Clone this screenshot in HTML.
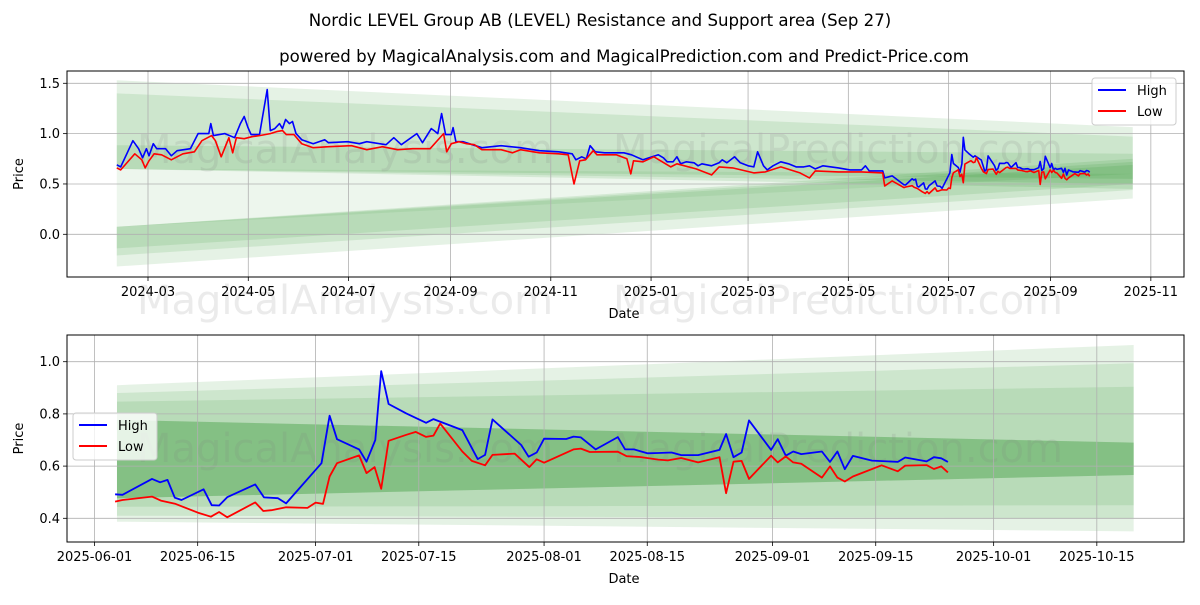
<!DOCTYPE html>
<html><head><meta charset="utf-8"><style>
body{margin:0;background:#fff;}
svg text{font-family:"DejaVu Sans","Liberation Sans",sans-serif;}
</style></head><body>
<svg id="c" width="1200" height="600" viewBox="0 0 1200 600" xmlns="http://www.w3.org/2000/svg">
<rect width="1200" height="600" fill="#fff"/>
<text x="600" y="26" text-anchor="middle" font-size="16.6">Nordic LEVEL Group AB (LEVEL) Resistance and Support area (Sep 27)</text>
<text x="624" y="62" text-anchor="middle" font-size="16.6">powered by MagicalAnalysis.com and MagicalPrediction.com and Predict-Price.com</text>
<g id="top"></g>
<g id="bot"></g>
</svg>
<script>
// ---- top chart data (day offsets from 2024-03-01) ----
const topHighDays=[-19,-16.6,-9.2,-5.7,-3.3,-1,0.6,3.2,5.3,10.7,14.2,17.7,25.8,30.5,37,38.2,39.8,46.8,52.7,56.2,58.5,60.8,62.7,67.8,72.5,74.4,77.1,80,81.8,83.7,86,87.9,90,93.5,100.5,107.5,109.8,121.5,128.5,133.1,144.8,149.5,154.1,163.5,167,172.3,174,176.3,178.6,181,184.5,185.6,187.3,191.5,203.1,214.8,226.5,238.1,249.8,258,260.3,263.8,266.6,268.9,272,277.8,289.5,294.1,301.1,310.4,313.5,315.8,319.4,321.7,324,327.5,332.2,334.6,336.9,342.8,347.4,349.3,352.1,356.8,360.3,365,368.5,370.8,374.4,376.7,380.2,384.9,389.6,394.2,398.9,402.4,405.9,410.6,420,427,434,436.4,438.7,446.9,448.1,452.7];
const topHighVals=[0.69,0.67,0.93,0.85,0.76,0.85,0.78,0.90,0.85,0.85,0.78,0.83,0.85,1.0,1.0,1.10,0.98,1.0,0.96,1.10,1.17,1.06,0.99,0.99,1.437,1.03,1.05,1.10,1.05,1.14,1.10,1.12,1.0,0.94,0.90,0.94,0.91,0.92,0.90,0.92,0.89,0.96,0.89,1.0,0.91,1.05,1.03,1.0,1.20,0.99,0.99,1.06,0.92,0.92,0.86,0.88,0.86,0.83,0.82,0.80,0.74,0.77,0.75,0.88,0.82,0.81,0.81,0.79,0.74,0.79,0.76,0.72,0.72,0.77,0.70,0.72,0.71,0.68,0.70,0.68,0.71,0.74,0.71,0.77,0.71,0.68,0.67,0.82,0.68,0.64,0.68,0.72,0.70,0.67,0.67,0.68,0.65,0.68,0.66,0.64,0.64,0.68,0.63,0.63,0.56,0.58];
const topLowDays=[-19,-16.6,-8,-3.8,-1.7,0.6,3.7,8.3,14.2,21.2,28.2,32.8,38.7,41,44.5,49.2,51.5,53.8,58.5,63.2,67.8,74.4,78.3,81.8,84.1,88.8,93.5,100.5,109.8,123.8,133.1,142.5,151.8,161.1,171.6,179.8,181.7,184.5,189.1,193.8,198.5,203.1,214.8,221.8,226.5,238.1,249.8,255.6,259.1,262.6,266.1,270.8,273.1,284.8,291.3,293.7,295.3,301.1,307.7,318,321.7,333.4,342.8,347.4,355.6,368.5,375.5,384.9,396.6,402.4,405.9,420,434,446.9,448.1,452.7];
const topLowVals=[0.66,0.64,0.80,0.74,0.66,0.73,0.80,0.79,0.74,0.80,0.82,0.93,0.98,0.93,0.77,0.96,0.81,0.96,0.95,0.97,0.98,1.0,1.02,1.03,0.99,0.99,0.90,0.86,0.87,0.88,0.84,0.87,0.84,0.85,0.85,1.0,0.82,0.90,0.92,0.90,0.89,0.84,0.84,0.81,0.84,0.81,0.80,0.79,0.50,0.73,0.74,0.83,0.79,0.79,0.75,0.60,0.73,0.72,0.77,0.67,0.70,0.65,0.59,0.67,0.66,0.61,0.62,0.67,0.61,0.56,0.63,0.62,0.62,0.61,0.48,0.53];
// ---- recent data (day offsets from 2025-06-01) ----
const recHighDays=[2.8,3.8,7.8,8.9,9.9,10.9,11.8,14.8,15.9,16.9,18,21.8,23,24.9,26,30.8,31.9,32.9,35.9,36.9,38.1,38.9,39.9,42.3,45,46,49.9,52,53,54,57.9,58.9,60,61,64,65,66,68,71,72,73.2,75,76.5,78.3,79.6,81.9,84.8,85.7,86.7,87.8,88.8,91.8,92.7,93.8,94.8,95.9,98.7,99.8,100.8,101.8,102.9,105.5,109,110,112.9,113.9,114.9,115.8];
const recHighVals=[0.492,0.490,0.551,0.538,0.547,0.479,0.470,0.511,0.450,0.449,0.481,0.530,0.480,0.477,0.457,0.611,0.793,0.703,0.664,0.617,0.700,0.964,0.838,0.802,0.766,0.780,0.738,0.627,0.643,0.779,0.681,0.636,0.652,0.705,0.704,0.713,0.710,0.664,0.711,0.664,0.664,0.649,0.650,0.652,0.642,0.642,0.662,0.723,0.634,0.652,0.775,0.662,0.703,0.640,0.656,0.646,0.656,0.616,0.656,0.588,0.639,0.621,0.616,0.633,0.618,0.634,0.630,0.616];
const recLowDays=[2.8,3.8,7.8,9,11,14,15.8,16.9,18,21.8,22.9,24,26,28.9,30,31,31.9,32.9,35.9,36.9,38,38.9,39.9,42.3,43.6,45,46,46.9,49.9,51.2,53,54,57,59,60,61,65,66,67.2,71,72.2,74,76.5,77.8,79.6,81.9,84.8,85.7,86.7,87.8,88.8,91.8,92.7,93.8,94.8,95.9,98.7,99.8,100.8,101.8,102.9,106.8,109,110,112.9,113.9,114.9,115.8];
const recLowVals=[0.464,0.470,0.483,0.468,0.455,0.422,0.406,0.424,0.404,0.461,0.428,0.431,0.442,0.440,0.460,0.455,0.560,0.611,0.641,0.573,0.596,0.513,0.697,0.720,0.731,0.712,0.717,0.763,0.656,0.620,0.603,0.643,0.648,0.596,0.626,0.613,0.664,0.667,0.654,0.655,0.638,0.635,0.625,0.622,0.631,0.614,0.634,0.496,0.617,0.620,0.551,0.640,0.614,0.637,0.614,0.609,0.556,0.599,0.556,0.541,0.560,0.603,0.580,0.602,0.604,0.589,0.599,0.576];
// band ranges [startLo,startHi,endLo,endHi]
const topBands=[[0.65,1.53,0.45,1.065],[0.65,1.40,0.50,0.97],[0.65,0.885,0.55,0.80],[-0.32,0.075,0.355,0.75],[-0.21,0.075,0.44,0.72],[-0.14,0.075,0.50,0.69],[0.075,0.65,0.60,0.60]];
const botBands=[[0.477,0.91,0.566,1.064],[0.477,0.88,0.566,0.994],[0.477,0.847,0.566,0.904],[0.387,0.777,0.35,0.69],[0.41,0.777,0.40,0.69],[0.444,0.777,0.45,0.69]];
const topYTicks=[0,0.5,1.0,1.5];
const topXTickDays=[0,61,122,184,245,306,365,426,487,549,610];
const topXTickLabels=["2024-03","2024-05","2024-07","2024-09","2024-11","2025-01","2025-03","2025-05","2025-07","2025-09","2025-11"];
const botYTicks=[0.4,0.6,0.8,1.0];
const botXTickDays=[0,14,30,44,61,75,92,106,122,136];
const botXTickLabels=["2025-06-01","2025-06-15","2025-07-01","2025-07-15","2025-08-01","2025-08-15","2025-09-01","2025-09-15","2025-10-01","2025-10-15"];
const recOffset=457; // 2025-06-01 in days from 2024-03-01

const NS="http://www.w3.org/2000/svg";
function mk(p,tag,at){const e=document.createElementNS(NS,tag);for(const k in at)e.setAttribute(k,at[k]);p.appendChild(e);return e;}

function panel(g,cfg){
  const {L,R,T,B,xs,ys}=cfg;
  cfg.bands.forEach((b,i)=>{
    const x0=xs(cfg.bandStart),x1=xs(cfg.bandEnd);
    const p=mk(g,'polygon',{points:`${x0},${ys(b[1])} ${x1},${ys(b[3])} ${x1},${ys(b[2])} ${x0},${ys(b[0])}`,fill:'#008000','fill-opacity':i==6?0.07:0.1});
    
    
  });
  cfg.marks.forEach(m=>{
    const t=mk(g,'text',{x:m[0],y:m[1],'text-anchor':'middle','font-size':40,fill:'#808080','fill-opacity':0.16});
    t.textContent=m[2];
    
    
  });
  cfg.yticks.forEach(v=>{
    const y=ys(v);
    const gl=mk(g,'line',{x1:L,x2:R,y1:y,y2:y,stroke:'#b0b0b0','stroke-width':0.8});
    
    
    mk(g,'line',{x1:L-4,x2:L,y1:y,y2:y,stroke:'#000','stroke-width':0.8});
    const t=mk(g,'text',{x:L-7,y:y+4.5,'text-anchor':'end','font-size':13});
    t.textContent=v.toFixed(1);
    
    
  });
  cfg.xdays.forEach((d,i)=>{
    const x=xs(d);
    const gl=mk(g,'line',{x1:x,x2:x,y1:T,y2:B,stroke:'#b0b0b0','stroke-width':0.8});
    
    
    mk(g,'line',{x1:x,x2:x,y1:B,y2:B+4,stroke:'#000','stroke-width':0.8});
    const t=mk(g,'text',{x:x,y:B+19,'text-anchor':'middle','font-size':13});
    t.textContent=cfg.xlabels[i];
    
    
  });
  const line=(ds,vs,col,name)=>{
    const pts=ds.map((d,i)=>xs(d).toFixed(1)+','+ys(vs[i]).toFixed(1)).join(' ');
    const pl=mk(g,'polyline',{points:pts,fill:'none',stroke:col,'stroke-width':cfg.lw,'stroke-linejoin':'round'});
    
    
  };
  line(cfg.hd,cfg.hv,'#0000ff','high-line');
  line(cfg.ld,cfg.lv,'#ff0000','low-line');
  const fr=mk(g,'rect',{x:L,y:T,width:R-L,height:B-T,fill:'none',stroke:'#000','stroke-width':1});
  
  
  const yl=mk(g,'text',{x:0,y:0,transform:`translate(${L-44},${(T+B)/2}) rotate(-90)`,'text-anchor':'middle','font-size':13});
  yl.textContent='Price';
  
  
  const xl=mk(g,'text',{x:624,y:B+41,'text-anchor':'middle','font-size':13});
  xl.textContent='Date';
  
  
  const [lx,ly]=cfg.leg;
  const lg=mk(g,'g',{});
  
  
  mk(lg,'rect',{x:lx,y:ly,width:84,height:47,rx:3,fill:'#fff','fill-opacity':0.8,stroke:'#cccccc'});
  [['High','#0000ff'],['Low','#ff0000']].forEach((e,i)=>{
    const eg=mk(lg,'g',{});
    
    
    const yy=ly+12+i*21;
    mk(eg,'line',{x1:lx+6,x2:lx+34,y1:yy,y2:yy,stroke:e[1],'stroke-width':2});
    const t=mk(eg,'text',{x:lx+45,y:yy+5,'font-size':13});
    t.textContent=e[0];
  });
}

panel(document.getElementById('top'),{
  L:67,R:1184,T:71,B:277,lw:1.6,
  xs:d=>148+d*1.644, ys:v=>234.3-v*100.67,
  bands:topBands,bandStart:-19,bandEnd:599,
  yticks:topYTicks,xdays:topXTickDays,xlabels:topXTickLabels,
  hd:topHighDays.concat(recHighDays.map(d=>d+recOffset)),hv:topHighVals.concat(recHighVals),
  ld:topLowDays.concat(recLowDays.map(d=>d+recOffset)),lv:topLowVals.concat(recLowVals),
  leg:[1092,78],
  marks:[[345,163,'MagicalAnalysis.com'],[838,163,'MagicalPrediction.com'],[345,314,'MagicalAnalysis.com'],[838,314,'MagicalPrediction.com']]
});
panel(document.getElementById('bot'),{
  L:67,R:1184,T:335,B:542,lw:1.8,
  xs:d=>94.5+d*7.37, ys:v=>518.3-(v-0.4)*261,
  bands:botBands,bandStart:3.05,bandEnd:141,
  yticks:botYTicks,xdays:botXTickDays,xlabels:botXTickLabels,
  hd:recHighDays,hv:recHighVals,ld:recLowDays,lv:recLowVals,
  leg:[73,413],
  marks:[[345,462,'MagicalAnalysis.com'],[838,462,'MagicalPrediction.com']]
});
</script>
</body></html>
